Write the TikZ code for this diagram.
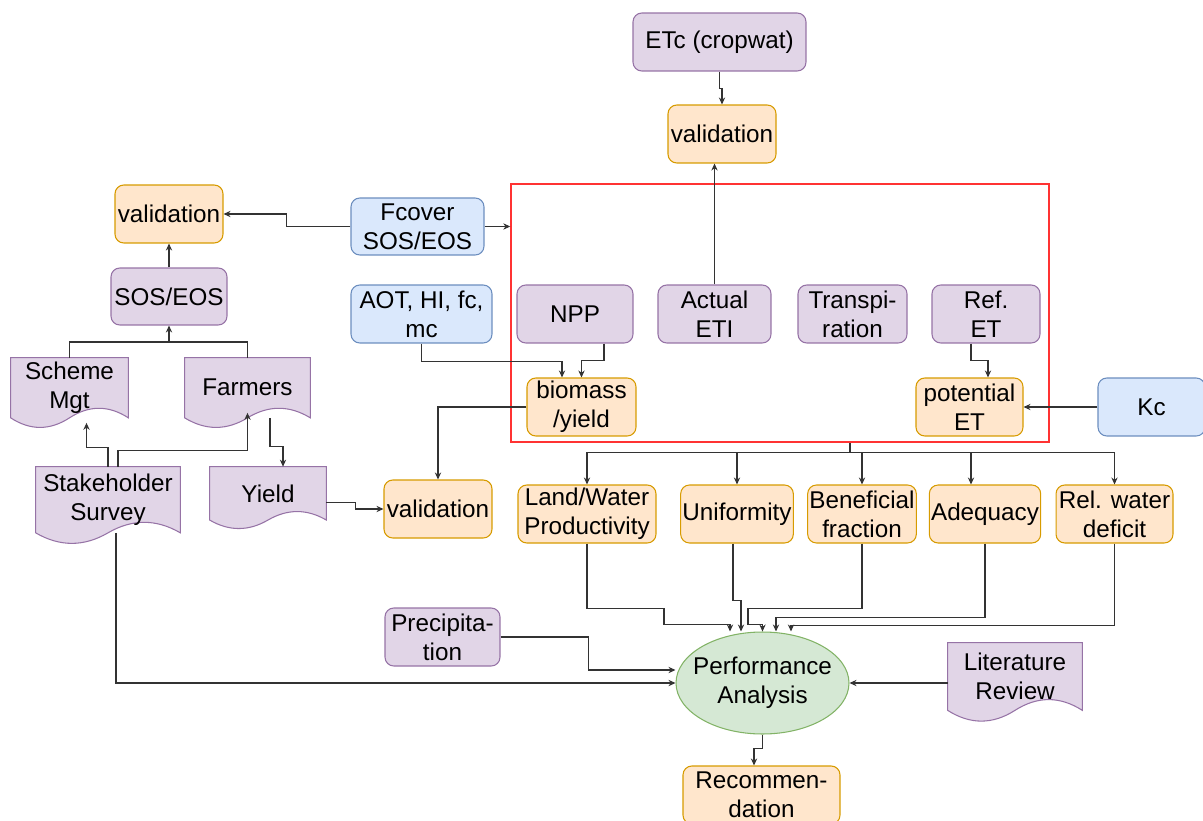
\documentclass[tikz,border=0pt]{standalone}
\usepackage{fontspec}
\setmainfont{Liberation Sans}
\usetikzlibrary{shapes.geometric,arrows.meta,calc,backgrounds}

\definecolor{purfill}{HTML}{E1D5E7}
\definecolor{purline}{HTML}{9673A6}
\definecolor{orgfill}{HTML}{FFE6CC}
\definecolor{orgline}{HTML}{D79B00}
\definecolor{blufill}{HTML}{DAE8FC}
\definecolor{bluline}{HTML}{6C8EBF}
\definecolor{grnfill}{HTML}{D5E8D4}
\definecolor{grnline}{HTML}{82B366}
\definecolor{redline}{HTML}{FF3333}

% wavy "document" outline round a node
\newcommand{\docwave}[1]{%
  \filldraw[draw=purline, fill=purfill, line width=0.6pt]
    let \p1=(#1.north west), \p2=(#1.south east),
        \n1={(\x2-\x1)/6}, \n2={0.212*(\y1-\y2)} in
    (\x1,\y1) -- (\x2,\y1) -- (\x2,\y2)
    .. controls (\x2-\n1,\y2+\n2) and (\x1+4*\n1,\y2+\n2) .. (\x1+3*\n1,\y2)
    .. controls (\x1+2*\n1,\y2-\n2) and (\x1+\n1,\y2-\n2) .. (\x1,\y2) -- cycle;}

\begin{document}
\begin{tikzpicture}[x=0.02cm, y=-0.02cm,
    box/.style={rounded corners=5pt, align=center, inner sep=1pt, line width=0.6pt,
      minimum width=2.16cm, minimum height=1.16cm, font=\fontsize{13.8}{16.4}\selectfont},
    purbox/.style={box, draw=purline, fill=purfill},
    orgbox/.style={box, draw=orgline, fill=orgfill},
    blubox/.style={box, draw=bluline, fill=blufill},
    docnode/.style={align=center, inner sep=1pt, font=\fontsize{13.8}{16.4}\selectfont},
    conn/.style={draw=black!80, line width=0.6pt},
    arr/.style={conn, -{Stealth[length=4pt,width=3.6pt]}}]
    \useasboundingbox (0,0) rectangle (1203,821);

    \node[draw=redline, line width=0.9pt, minimum width=10.76cm, minimum height=5.16cm, inner sep=0] (block) at (780,313) {};

    \node[purbox, minimum width=3.46cm] (etc) at (719.5,42) {ETc (cropwat)};
    \node[orgbox] (valtop) at (722,134) {validation};
    \node[orgbox] (valsos) at (169,214) {validation};
    \node[blubox, minimum width=2.66cm, minimum height=1.14cm] (fcover) at (417.5,226.5) {Fcover\\SOS/EOS};
    \node[purbox, minimum width=2.32cm, minimum height=1.14cm] (sos) at (169,296.5) {SOS/EOS};
    \node[blubox, minimum width=2.82cm] (aot) at (421.5,314) {AOT, HI, fc,\\mc};
    \node[purbox, minimum width=2.32cm] (npp) at (575,314) {NPP};
    \node[purbox, minimum width=2.26cm] (aeti) at (714.5,314) {Actual\\ETI};
    \node[purbox, minimum width=2.18cm] (transp) at (852.5,314) {Transpi-\\ration};
    \node[purbox] (refet) at (986,314) {Ref.\\ET};
    \node[orgbox, minimum width=2.18cm] (biomass) at (581.5,407) {biomass\\/yield};
    \node[orgbox, minimum width=2.14cm] (potet) at (969.5,407) {potential\\ET};
    \node[blubox, minimum width=2.14cm] (kc) at (1151.5,407) {Kc};

    \node[docnode, minimum width=2.34cm, minimum height=1.19cm] (scheme) at (69.5,387.75) {Scheme\\Mgt};
    \node[docnode, minimum width=2.5cm, minimum height=1.19cm] (farmers) at (247.5,387.75) {Farmers};
    \node[docnode, minimum width=2.88cm, minimum height=1.31cm] (stake) at (108,499.75) {Stakeholder\\Survey};
    \node[docnode, minimum width=2.32cm, minimum height=1.054cm] (yield) at (268,493.35) {Yield};
    \node[docnode, minimum width=2.68cm, minimum height=1.34cm] (litrev) at (1015,676.5) {Literature\\Review};
    \begin{pgfonlayer}{background}
        \foreach \d in {scheme,farmers,stake,yield,litrev} \docwave{\d};
    \end{pgfonlayer}

    \node[orgbox] (valyield) at (438,509) {validation};
    \node[orgbox, minimum width=2.76cm] (lwp) at (587,514) {Land/Water\\Productivity};
    \node[orgbox] (unif) at (737,514) {Uniformity};
    \node[orgbox] (benef) at (862,514) {Beneficial\\fraction};
    \node[orgbox] (adeq) at (985,514) {Adequacy};
    \node[orgbox, minimum width=2.34cm] (rwd) at (1114.5,514) {Rel. water\\deficit};

    \node[purbox, minimum width=2.3cm] (precip) at (442.5,637) {Precipita-\\tion};
    \node[box, ellipse, draw=grnline, fill=grnfill, minimum width=3.46cm, minimum height=2.04cm, inner xsep=-5.5pt, inner ysep=0pt] (perf) at (762.5,683) {Performance\\Analysis};
    \node[orgbox, minimum width=3.14cm] (recom) at (761.5,795) {Recommen-\\dation};

    \draw[arr] (etc.south) -- ++(0,17) -| (valtop.north);
    \draw[arr] (aeti.north) -- (aeti.north |- valtop.south);
    \draw[arr] (fcover.west) -- ++(-64,0) |- (valsos.east);
    \draw[arr] (fcover.east) -- (fcover.east -| block.west);
    \draw[arr] (sos.north) -- (valsos.south);
    \coordinate (join) at (169,342);
    \draw[conn] (scheme.north) |- (join) -| (farmers.north);
    \draw[arr] (join) -- (sos.south);
    \draw[arr] (stake.north) -- ++(0,-19) -| ([xshift=0.34cm,yshift=-0.1cm]scheme.south);
    \draw[arr] ([xshift=0.2cm]stake.north) -- ++(0,-16) -| ([yshift=0.1cm]farmers.south);
    \draw[arr] ([xshift=0.45cm]farmers.south) -- ++(0,29) -| ([xshift=0.3cm]yield.north);
    \draw[arr] ([yshift=-0.18cm]yield.east) -- ++(29,0) |- (valyield.west);
    \draw[arr] (biomass.west) -| (valyield.north);
    \draw[arr] (aot.south) -- ++(0,18) -| ([xshift=-0.39cm]biomass.north);
    \draw[arr] ([xshift=0.58cm]npp.south) -- ++(0,17) -| (biomass.north);
    \draw[arr] ([xshift=-0.3cm]refet.south) -- ++(0,17) -| ([xshift=0.37cm]potet.north);
    \draw[arr] (kc.west) -- (potet.east);

    \draw[conn] ([xshift=1.4cm]block.south) -- ++(0,10) coordinate (split);
    \foreach \m in {lwp,unif,benef,rwd}
        \draw[arr] (split) -| (\m.north);
    \draw[arr] (split) -| ([xshift=-0.28cm]adeq.north);

    \draw[arr] (lwp.south) -- ++(0,65) -- ++(77,0) -- ++(0,16) -| ([xshift=-0.65cm]perf.north);
    \draw[arr] ([xshift=-0.08cm]unif.south) -- ++(0,57) -| ([xshift=-0.43cm]perf.north);
    \draw[arr] (benef.south) -- ++(0,65) -- ++(-114,0) -- ++(0,16) -| (perf.north);
    \draw[arr] (adeq.south) -- ++(0,74) -| ([xshift=0.27cm]perf.north);
    \draw[arr] (rwd.south) -- ++(0,82) -| ([xshift=0.57cm]perf.north);
    \draw[arr] (precip.east) -- ++(88,0) |- ([yshift=0.26cm]perf.west);
    \draw[arr] ([xshift=0.16cm]stake.south) |- (perf.west);
    \draw[arr] (perf.east -| litrev.west) -- (perf.east);
    \draw[arr] (perf.south) -- ++(0,14) -| ([xshift=-0.15cm]recom.north);
\end{tikzpicture}
\end{document}
